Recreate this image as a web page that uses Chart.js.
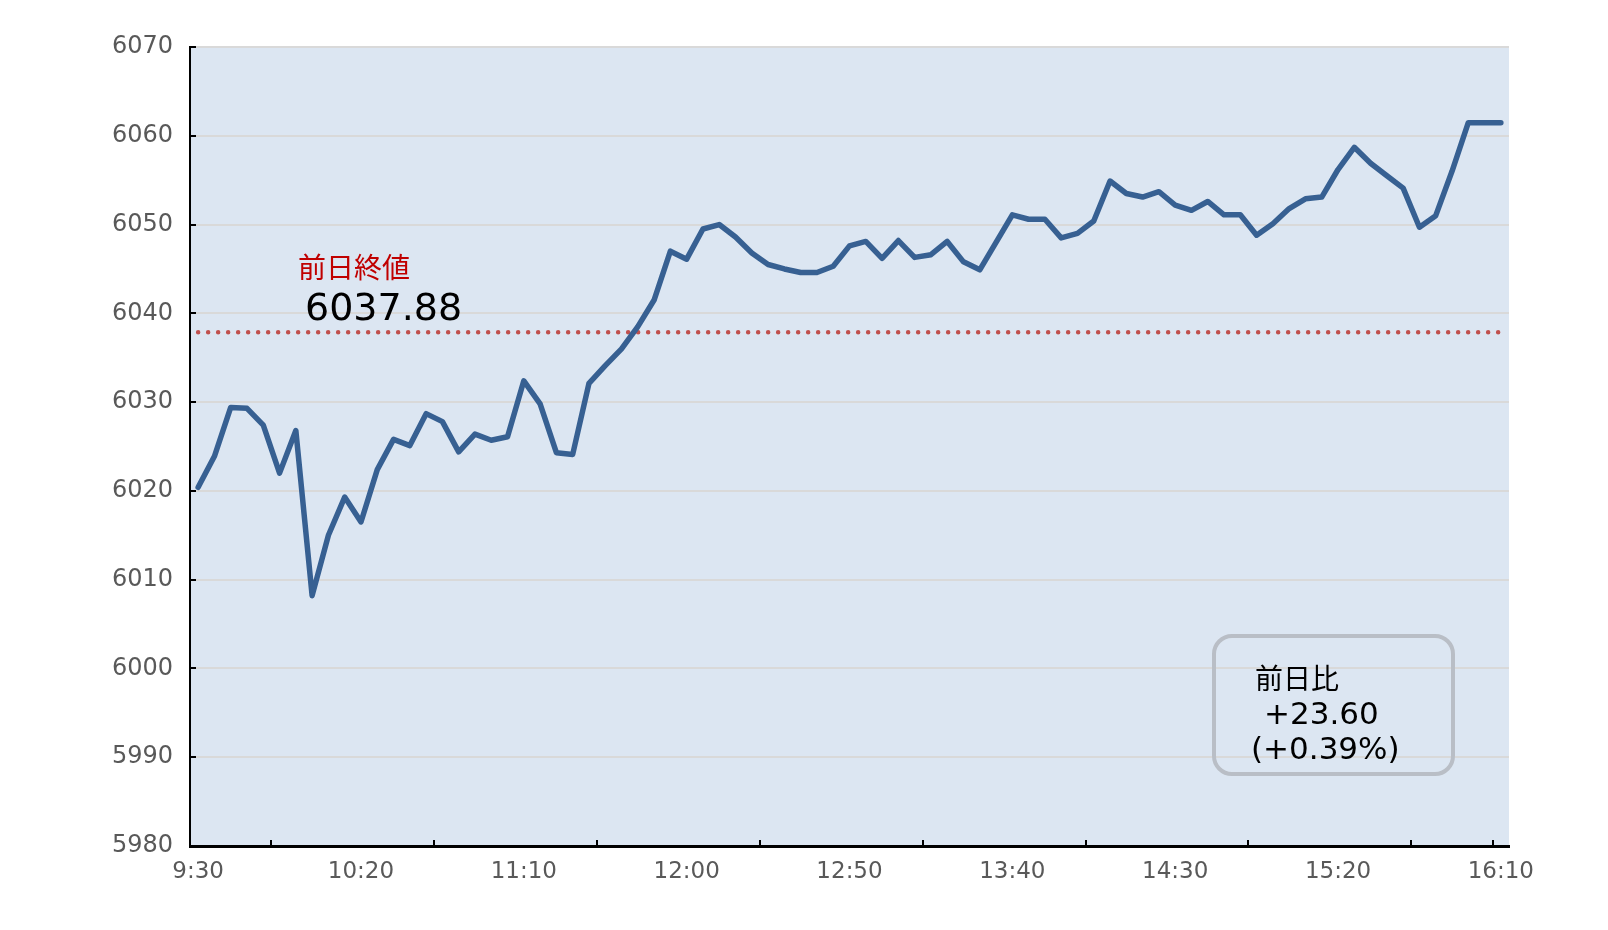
<!DOCTYPE html>
<html lang="ja">
<head>
<meta charset="utf-8">
<title>前日終値チャート</title>
<script src="https://cdn.jsdelivr.net/npm/chart.js@4.4.0/dist/chart.umd.min.js"></script>
<style>
  html, body { margin: 0; padding: 0; background: #ffffff; }
  #wrap { width: 1608px; height: 930px; }
</style>
</head>
<body>
<div id="wrap"><canvas id="priceChart" width="1608" height="930"></canvas></div>
<script>
// 5分足の時刻
const timeLabels = [
  "9:30", "9:35", "9:40", "9:45", "9:50", "9:55", "10:00", "10:05", "10:10", "10:15",
  "10:20", "10:25", "10:30", "10:35", "10:40", "10:45", "10:50", "10:55", "11:00", "11:05",
  "11:10", "11:15", "11:20", "11:25", "11:30", "11:35", "11:40", "11:45", "11:50", "11:55",
  "12:00", "12:05", "12:10", "12:15", "12:20", "12:25", "12:30", "12:35", "12:40", "12:45",
  "12:50", "12:55", "13:00", "13:05", "13:10", "13:15", "13:20", "13:25", "13:30", "13:35",
  "13:40", "13:45", "13:50", "13:55", "14:00", "14:05", "14:10", "14:15", "14:20", "14:25",
  "14:30", "14:35", "14:40", "14:45", "14:50", "14:55", "15:00", "15:05", "15:10", "15:15",
  "15:20", "15:25", "15:30", "15:35", "15:40", "15:45", "15:50", "15:55", "16:00", "16:05",
  "16:10"
];

const prices = [
  6020.4, 6023.9, 6029.4, 6029.3, 6027.4, 6022.0, 6026.8, 6008.2, 6015.0, 6019.3,
  6016.5, 6022.4, 6025.8, 6025.1, 6028.7, 6027.8, 6024.4, 6026.4, 6025.7, 6026.1,
  6032.4, 6029.8, 6024.3, 6024.1, 6032.1, 6034.1, 6036.0, 6038.5, 6041.5, 6047.0,
  6046.1, 6049.5, 6050.0, 6048.6, 6046.8, 6045.5, 6045.0, 6044.6, 6044.6, 6045.3,
  6047.6, 6048.1, 6046.2, 6048.2, 6046.3, 6046.6, 6048.1, 6045.8, 6044.9, 6048.0,
  6051.1, 6050.6, 6050.6, 6048.5, 6049.0, 6050.4, 6054.9, 6053.5, 6053.1, 6053.7,
  6052.2, 6051.6, 6052.6, 6051.1, 6051.1, 6048.8, 6050.1, 6051.8, 6052.9, 6053.1,
  6056.2, 6058.7, 6056.9, 6055.5, 6054.1, 6049.7, 6051.0, 6056.0, 6061.48, 6061.48,
  6061.48
];

const yMin = 5980;
const yMax = 6070;
const yStep = 10;

const prevClose = 6037.88;
const prevCloseTitle = "前日終値";
const prevCloseText = "6037.88";
const changeLines = ["前日比", "+23.60", "(+0.39%)"];

// 目盛り線を引くカテゴリ境界（index）
const xTickMarks = [5, 15, 25, 35, 45, 55, 65, 75, 80];

const FONT = '"DejaVu Sans", "Noto Sans CJK JP", sans-serif';

const plotBackground = {
  id: "plotBackground",
  beforeDraw(chart) {
    const { ctx, chartArea } = chart;
    ctx.save();
    ctx.fillStyle = "#dce6f2";
    ctx.fillRect(chartArea.left, chartArea.top, chartArea.right - chartArea.left, chartArea.bottom - chartArea.top);
    ctx.restore();
  }
};

// 前日終値の点線
const prevCloseLine = {
  id: "prevCloseLine",
  beforeDatasetsDraw(chart) {
    const { ctx } = chart;
    const xs = chart.scales.x;
    const ys = chart.scales.y;
    const y = ys.getPixelForValue(prevClose);
    ctx.save();
    ctx.strokeStyle = "#c0504d";
    ctx.lineWidth = 4.5;
    ctx.lineCap = "round";
    ctx.setLineDash([0, 10]);
    ctx.beginPath();
    ctx.moveTo(xs.getPixelForValue(0), y);
    ctx.lineTo(xs.getPixelForValue(timeLabels.length - 1), y);
    ctx.stroke();
    ctx.restore();
  }
};

const axisMarksAndNotes = {
  id: "axisMarksAndNotes",
  afterDraw(chart) {
    const { ctx, chartArea } = chart;
    const xs = chart.scales.x;
    const ys = chart.scales.y;
    ctx.save();

    // 目盛り（内向き）
    ctx.strokeStyle = "#000000";
    ctx.lineWidth = 2;
    for (let v = yMin; v <= yMax; v += yStep) {
      const y = Math.round(ys.getPixelForValue(v));
      ctx.beginPath();
      ctx.moveTo(chartArea.left, y);
      ctx.lineTo(chartArea.left + 6, y);
      ctx.stroke();
    }
    xTickMarks.forEach(k => {
      const x = Math.round((xs.getPixelForValue(k - 1) + xs.getPixelForValue(k)) / 2);
      ctx.beginPath();
      ctx.moveTo(x, chartArea.bottom);
      ctx.lineTo(x, chartArea.bottom - 6);
      ctx.stroke();
    });

    // 前日終値
    ctx.textAlign = "left";
    ctx.textBaseline = "middle";
    ctx.fillStyle = "#c00000";
    ctx.font = "28px " + FONT;
    ctx.fillText(prevCloseTitle, 298, 271);
    ctx.fillStyle = "#000000";
    ctx.font = "38px " + FONT;
    ctx.fillText(prevCloseText, 305, 310);

    // 前日比ボックス
    ctx.strokeStyle = "#b9bec6";
    ctx.lineWidth = 4;
    ctx.beginPath();
    ctx.roundRect(1214, 636, 239, 138, 18);
    ctx.stroke();

    ctx.fillStyle = "#000000";
    ctx.font = "28px " + FONT;
    ctx.fillText(changeLines[0], 1255, 682);
    ctx.font = "31px " + FONT;
    ctx.fillText(changeLines[1], 1264, 716);
    ctx.fillText(changeLines[2], 1251, 751);

    ctx.restore();
  }
};

function renderChart() {
  const ctx = document.getElementById("priceChart").getContext("2d");
  new Chart(ctx, {
    type: "line",
    data: {
      labels: timeLabels,
      datasets: [
        {
          label: "終値",
          data: prices,
          borderColor: "#376092",
          borderWidth: 5.5,
          pointRadius: 0,
          tension: 0,
          borderCapStyle: "round",
          borderJoinStyle: "round",
          fill: false
        }
      ]
    },
    options: {
      responsive: false,
      devicePixelRatio: 1,
      animation: false,
      layout: { padding: { top: 47, right: 99, bottom: 0, left: 0 } },
      plugins: {
        legend: { display: false },
        tooltip: { enabled: false }
      },
      scales: {
        x: {
          type: "category",
          offset: true,
          grid: { display: false, drawTicks: false, offset: true },
          border: { display: true, color: "#000000", width: 3 },
          ticks: {
            autoSkip: false,
            maxRotation: 0,
            padding: 12,
            color: "#595959",
            font: { size: 23, family: FONT },
            callback: function (value, index) {
              return index % 10 === 0 ? timeLabels[index] : "";
            }
          },
          afterFit(scale) { scale.height = 84; }
        },
        y: {
          min: yMin,
          max: yMax,
          grid: { color: "#d9d9d9", lineWidth: 2, drawTicks: false },
          border: { display: true, color: "#000000", width: 2 },
          ticks: {
            stepSize: yStep,
            padding: 17,
            color: "#595959",
            font: { size: 24, family: FONT },
            callback: function (value) {
              return String(value);
            }
          },
          afterFit(scale) { scale.width = 190; }
        }
      }
    },
    plugins: [plotBackground, prevCloseLine, axisMarksAndNotes]
  });
}

window.onload = function () {
  renderChart();
};
</script>
</body>
</html>
